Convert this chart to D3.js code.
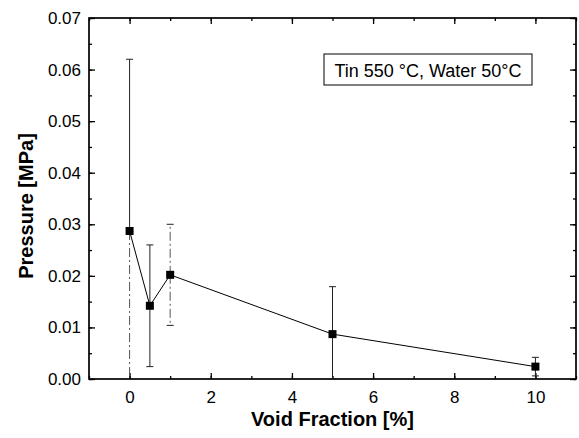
<!DOCTYPE html>
<html>
<head>
<meta charset="utf-8">
<script src="https://cdn.jsdelivr.net/npm/d3@7"></script>
<style>
  body { margin: 0; background: #fff; }
  svg { display: block; }
  text { font-family: Arial, "Liberation Sans", sans-serif; fill: #000; }
</style>
</head>
<body>
<svg id="chart" width="579" height="438"></svg>
<script>
// ---- data ----
const voidFraction = [0, 0.5, 1, 5, 10];
const pressure     = [0.0287, 0.0142, 0.0202, 0.0087, 0.0024];
const errPlus      = [0.0333, 0.0118, 0.0098, 0.0092, 0.0018];
const errMinus     = [0.0333, 0.0118, 0.0098, 0.0092, 0.0018];
const xTicks = [0, 2, 4, 6, 8, 10];
const yTicks = [0.00, 0.01, 0.02, 0.03, 0.04, 0.05, 0.06, 0.07];
const legendText = "Tin 550 °C, Water 50°C";
const xTitle = "Void Fraction [%]";
const yTitle = "Pressure [MPa]";

const svg = d3.select("#chart");
const L = 89, R = 576, T = 18, B = 379;

const x = d3.scaleLinear().domain([-1, 11]).range([L, R]);
const y = d3.scaleLinear().domain([0, 0.07]).range([B, T]);

const xMinor = d3.range(-1, 11.001, 1);
const yMinor = d3.range(0, 0.0701, 0.005);

function styleAxis(g) {
  g.select(".domain").remove();
  g.selectAll("line").attr("stroke", "#000").attr("stroke-width", 1.3);
}

// minor ticks (inward)
svg.append("g").attr("transform", `translate(0,${B})`)
  .call(d3.axisBottom(x).tickValues(xMinor).tickSize(-3).tickFormat(""))
  .call(styleAxis);
svg.append("g").attr("transform", `translate(0,${T})`)
  .call(d3.axisTop(x).tickValues(xMinor).tickSize(-3).tickFormat(""))
  .call(styleAxis);
svg.append("g").attr("transform", `translate(${L},0)`)
  .call(d3.axisLeft(y).tickValues(yMinor).tickSize(-3).tickFormat(""))
  .call(styleAxis);
svg.append("g").attr("transform", `translate(${R},0)`)
  .call(d3.axisRight(y).tickValues(yMinor).tickSize(-3).tickFormat(""))
  .call(styleAxis);

// major ticks (inward)
const xb = svg.append("g").attr("transform", `translate(0,${B})`)
  .call(d3.axisBottom(x).tickValues(xTicks).tickSize(-6).tickPadding(12).tickFormat(d3.format("d")))
  .call(styleAxis);
xb.selectAll("text").attr("font-size", 17).attr("font-family", "Arial, 'Liberation Sans', sans-serif").attr("fill", "#000");
svg.append("g").attr("transform", `translate(0,${T})`)
  .call(d3.axisTop(x).tickValues(xTicks).tickSize(-6).tickFormat(""))
  .call(styleAxis);
const yl = svg.append("g").attr("transform", `translate(${L},0)`)
  .call(d3.axisLeft(y).tickValues(yTicks).tickSize(-6).tickPadding(8).tickFormat(d3.format(".2f")))
  .call(styleAxis);
yl.selectAll("text").attr("font-size", 17).attr("font-family", "Arial, 'Liberation Sans', sans-serif").attr("fill", "#000");
svg.append("g").attr("transform", `translate(${R},0)`)
  .call(d3.axisRight(y).tickValues(yTicks).tickSize(-6).tickFormat(""))
  .call(styleAxis);

// frame
svg.append("rect")
  .attr("x", L).attr("y", T).attr("width", R - L).attr("height", B - T)
  .attr("fill", "none").attr("stroke", "#000").attr("stroke-width", 1.7);

// data
const pts = voidFraction.map((v, i) => ({ x: v, y: pressure[i], hi: pressure[i] + errPlus[i], lo: Math.max(0, pressure[i] - errMinus[i]), i }));

svg.append("defs").append("clipPath").attr("id", "plotclip")
  .append("rect").attr("x", L).attr("y", T).attr("width", R - L).attr("height", B - T);

const plot = svg.append("g").attr("clip-path", "url(#plotclip)");

// error bars
const eb = plot.selectAll("g.eb").data(pts).join("g").attr("class", "eb");
// upper
eb.append("line")
  .attr("x1", d => x(d.x)).attr("x2", d => x(d.x))
  .attr("y1", d => y(d.y)).attr("y2", d => y(d.hi))
  .attr("stroke", d => d.i === 2 ? "#555" : "#222").attr("stroke-width", 1)
  .attr("stroke-dasharray", d => d.i === 2 ? "9,3,2,3" : null);
// lower
eb.append("line")
  .attr("x1", d => x(d.x)).attr("x2", d => x(d.x))
  .attr("y1", d => y(d.y)).attr("y2", d => y(d.lo))
  .attr("stroke", d => (d.i === 0 || d.i === 2) ? "#555" : "#222").attr("stroke-width", 1)
  .attr("stroke-dasharray", d => (d.i === 0 || d.i === 2) ? "9,3,2,3" : null);
// caps
eb.append("line")
  .attr("x1", d => x(d.x) - 3.5).attr("x2", d => x(d.x) + 3.5)
  .attr("y1", d => y(d.hi)).attr("y2", d => y(d.hi))
  .attr("stroke", "#222").attr("stroke-width", 1);
eb.filter(d => d.y - errMinus[d.i] > 0).append("line")
  .attr("x1", d => x(d.x) - 3.5).attr("x2", d => x(d.x) + 3.5)
  .attr("y1", d => y(d.lo)).attr("y2", d => y(d.lo))
  .attr("stroke", "#222").attr("stroke-width", 1);

// connecting line
plot.append("path")
  .datum(pts)
  .attr("fill", "none").attr("stroke", "#000").attr("stroke-width", 1)
  .attr("d", d3.line().x(d => x(d.x)).y(d => y(d.y)));

// markers
plot.selectAll("rect.mk").data(pts).join("rect").attr("class", "mk")
  .attr("x", d => x(d.x) - 4).attr("y", d => y(d.y) - 4)
  .attr("width", 8).attr("height", 8).attr("fill", "#000");

// legend box
svg.append("rect")
  .attr("x", 324).attr("y", 54).attr("width", 208).attr("height", 31)
  .attr("fill", "#fff").attr("stroke", "#000").attr("stroke-width", 1);
svg.append("text")
  .attr("x", 428).attr("y", 77).attr("text-anchor", "middle")
  .attr("font-size", 18)
  .text(legendText);

// axis titles
svg.append("text")
  .attr("x", x(5)).attr("y", 426).attr("text-anchor", "middle")
  .attr("font-size", 20).attr("font-weight", "bold")
  .text(xTitle);
svg.append("text")
  .attr("transform", `translate(33,${206}) rotate(-90)`)
  .attr("text-anchor", "middle")
  .attr("font-size", 20).attr("font-weight", "bold")
  .text(yTitle);
</script>
</body>
</html>
